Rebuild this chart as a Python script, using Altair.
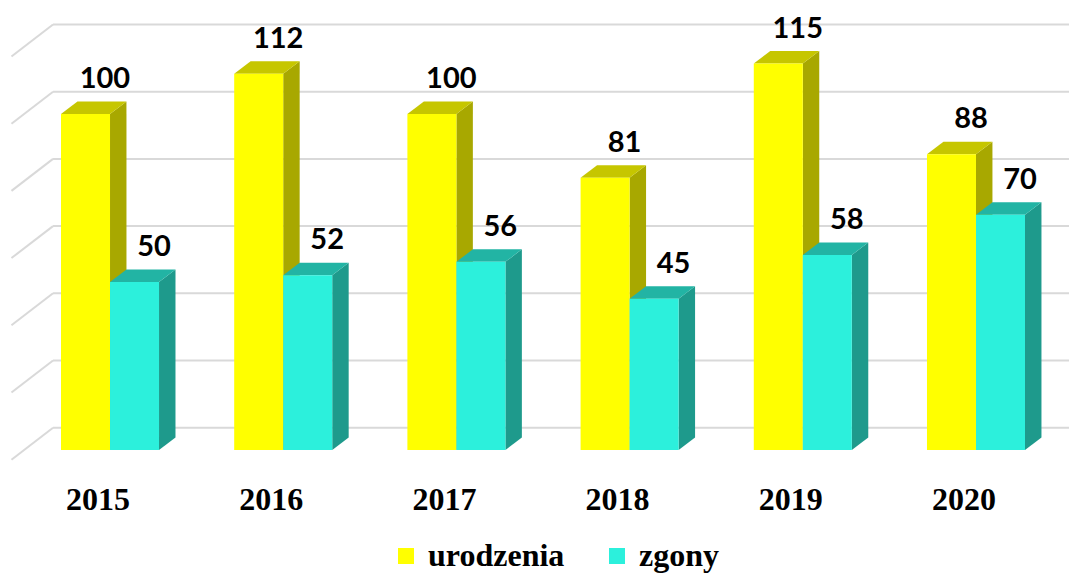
import altair as alt
import pandas as pd

# ---- data ----
years = ["2015", "2016", "2017", "2018", "2019", "2020"]
urodzenia = [100, 112, 100, 81, 115, 88]
zgony = [50, 52, 56, 45, 58, 70]
grid_values = [0, 20, 40, 60, 80, 100, 120]
series_names = ["urodzenia", "zgony"]

# ---- styling / layout constants ----
FRONT = {"urodzenia": "#FFFF00", "zgony": "#2CF0DC"}
TOP = {"urodzenia": "#C6C600", "zgony": "#22B4A4"}
SIDE = {"urodzenia": "#A8A800", "zgony": "#1E9A8C"}
GRID = "#D9D9D9"

BAR_W = 0.283      # bar width in category units
DEPTH_X = 0.095    # 3-D depth, horizontal (category units)
DEPTH_Y = 3.72     # 3-D depth, vertical (value units)
WALL_Y = 6.64      # back wall vertical shift (value units)
DIAG_X = 0.24
DIAG_Y = 9.52
WALL_X0 = 0.171

W, H = 1061, 565
xscale = alt.Scale(domain=[-0.089, 6.037], nice=False, zero=False)
yscale = alt.Scale(domain=[-36.607, 131.548], nice=False, zero=False)

# ---- build tables ----
fronts, faces, labels = [], [], []
for i, yr in enumerate(years):
    for s, vals in (("urodzenia", urodzenia), ("zgony", zgony)):
        v = vals[i]
        x0 = i + 0.5 - BAR_W if s == "urodzenia" else i + 0.5
        x1 = x0 + BAR_W
        fronts.append({"year": yr, "series": s, "x0": x0, "x1": x1, "v": v})
        labels.append({"series": s, "xc": (x0 + x1) / 2 + DEPTH_X, "v": v, "txt": str(v)})
        bid = f"{s}-{yr}"
        # side face (parallelogram)
        faces.append({"id": bid + "-side", "series": s, "part": "side", "x": x1, "ya": 0, "yb": v})
        faces.append({"id": bid + "-side", "series": s, "part": "side", "x": x1 + DEPTH_X, "ya": DEPTH_Y, "yb": v + DEPTH_Y})
        # top face (parallelogram)
        faces.append({"id": bid + "-top", "series": s, "part": "top", "x": x0, "ya": v, "yb": v})
        faces.append({"id": bid + "-top", "series": s, "part": "top", "x": x0 + DEPTH_X, "ya": v, "yb": v + DEPTH_Y})
        faces.append({"id": bid + "-top", "series": s, "part": "top", "x": x1, "ya": v, "yb": v + DEPTH_Y})
        faces.append({"id": bid + "-top", "series": s, "part": "top", "x": x1 + DEPTH_X, "ya": v + DEPTH_Y, "yb": v + DEPTH_Y})

fronts = pd.DataFrame(fronts)
faces = pd.DataFrame(faces)
labels = pd.DataFrame(labels)

grid = pd.DataFrame({
    "g": grid_values,
    "yb": [g + WALL_Y for g in grid_values],
    "yd": [g + WALL_Y - DIAG_Y for g in grid_values],
    "xa": [WALL_X0] * len(grid_values),
    "xe": [6.037] * len(grid_values),
    "xd": [WALL_X0 - DIAG_X] * len(grid_values),
})
year_df = pd.DataFrame({"year": years, "xc": [i + 0.5 for i in range(len(years))], "v": [0] * len(years)})

X = lambda f: alt.X(f, scale=xscale, axis=None)
Y = lambda f: alt.Y(f, scale=yscale, axis=None)

hgrid = alt.Chart(grid).mark_rule(color=GRID, strokeWidth=2).encode(
    x=X("xa:Q"), x2="xe:Q", y=Y("yb:Q"))
dgrid = alt.Chart(grid).mark_rule(color=GRID, strokeWidth=2).encode(
    x=X("xd:Q"), x2="xa:Q", y=Y("yd:Q"), y2="yb:Q")

layers = [hgrid, dgrid]
for s in series_names:
    for part, cmap in (("side", SIDE), ("top", TOP)):
        layers.append(
            alt.Chart(faces).transform_filter(
                (alt.datum.series == s) & (alt.datum.part == part)
            ).mark_area(orient="vertical", color=cmap[s]).encode(
                x=X("x:Q"), y=Y("ya:Q"), y2="yb:Q", detail="id:N")
        )
    layers.append(
        alt.Chart(fronts).transform_filter(alt.datum.series == s).mark_rect().encode(
            x=X("x0:Q"), x2="x1:Q", y=Y("v:Q"), y2=alt.Y2(datum=0),
            color=alt.Color("series:N",
                            scale=alt.Scale(domain=series_names, range=[FRONT[n] for n in series_names]),
                            legend=alt.Legend(title=None, orient="none", legendX=382, legendY=532,
                                              direction="horizontal", symbolType="square",
                                              symbolSize=256, symbolStrokeWidth=0, symbolOpacity=1,
                                              labelFont="Liberation Serif", labelFontSize=32,
                                              labelFontWeight="bold", labelColor="#000000",
                                              labelOffset=6, columnPadding=36, labelLimit=400)))
    )

vlabels = alt.Chart(labels).mark_text(
    font="Lato", fontSize=29, fontWeight="bold", color="#000000",
    baseline="alphabetic", dy=-26, dx=3).encode(
    x=X("xc:Q"), y=Y("v:Q"), text="txt:N")

ylabels = alt.Chart(year_df).mark_text(
    font="Liberation Serif", fontSize=32, fontWeight="bold", color="#000000",
    baseline="alphabetic", dy=60, dx=-12).encode(
    x=X("xc:Q"), y=Y("v:Q"), text="year:N")

chart = alt.layer(*layers, vlabels, ylabels).properties(
    width=W, height=H, padding=0,
    autosize=alt.AutoSizeParams(type="none"),
).configure_view(stroke=None)

chart.save("out.html", embed_options={"renderer": "svg", "actions": False})
